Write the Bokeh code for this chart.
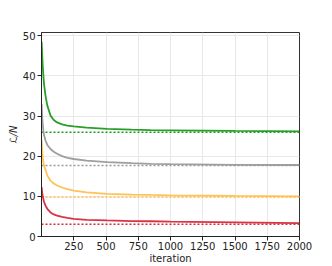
from bokeh.plotting import figure
from bokeh.models import FixedTicker, Range1d
from bokeh.embed import file_html
from bokeh.resources import INLINE

# data
iters = [1, 5, 10, 15, 20, 31, 45, 70, 95, 121, 160, 200, 250, 350, 509, 700, 845, 1000, 1500, 2000]
green = [48.5, 45.5, 42.3, 39.8, 37.8, 35.1, 32.6, 30.1, 29.0, 28.4, 27.9, 27.6, 27.4, 27.1, 26.8, 26.6, 26.5, 26.45, 26.3, 26.2]
gray = [33.0, 30.0, 27.8, 26.3, 25.2, 23.9, 22.8, 21.8, 21.1, 20.6, 20.0, 19.6, 19.3, 18.9, 18.5, 18.25, 18.1, 18.0, 17.85, 17.8]
orange = [24.0, 21.5, 19.6, 18.4, 17.6, 16.6, 15.2, 13.9, 13.2, 12.7, 12.2, 11.8, 11.4, 11.0, 10.6, 10.45, 10.35, 10.25, 10.1, 10.0]
red = [12.3, 11.0, 10.0, 9.2, 8.6, 7.7, 6.9, 6.0, 5.5, 5.2, 4.9, 4.65, 4.4, 4.15, 4.0, 3.85, 3.8, 3.7, 3.5, 3.35]
baselines = [25.95, 17.7, 9.8, 3.05]
colors = ["#1c9a1c", "#999999", "#ffbf4d", "#d62839"]
x_ticks = [250, 500, 750, 1000, 1250, 1500, 1750, 2000]
y_ticks = [0, 10, 20, 30, 40, 50]
x_span = [0, 2000]

p = figure(width=324, height=266, output_backend="svg", toolbar_location=None,
           x_range=Range1d(0, 2000), y_range=Range1d(0, 50.8),
           min_border_left=41, min_border_right=25, min_border_top=32, min_border_bottom=30)
p.background_fill_color = "white"
p.border_fill_color = "white"
p.outline_line_color = "#333333"
p.outline_line_width = 1

for ys, b, c in zip([green, gray, orange, red], baselines, colors):
    p.line(x_span, [b, b], line_color=c, line_width=1.5, line_dash="2 2")
    p.line(iters, ys, line_color=c, line_width=1.8, line_alpha=0.95)

p.xaxis.ticker = FixedTicker(ticks=x_ticks)
p.yaxis.ticker = FixedTicker(ticks=y_ticks)
for ax in (p.xaxis, p.yaxis):
    ax.major_label_text_font = "DejaVu Sans"
    ax.major_label_text_font_size = "10px"
    ax.major_label_text_color = "#222222"
    ax.axis_line_color = "#222222"
    ax.major_tick_line_color = "#222222"
    ax.major_tick_out = 4
    ax.major_tick_in = 0
    ax.minor_tick_out = 0
    ax.minor_tick_in = 0
    ax.axis_label_text_font = "DejaVu Sans"
    ax.axis_label_text_font_size = "10px"
    ax.axis_label_text_font_style = "normal"
    ax.axis_label_text_color = "#222222"
    ax.major_label_standoff = 2
p.xaxis.major_label_standoff = 1
p.xaxis.axis_label_standoff = 0
p.yaxis.axis_label_standoff = 1
p.xaxis.axis_label = "iteration"
p.yaxis.axis_label = "ℒ/N"
p.yaxis.axis_label_text_font_style = "italic"
p.xgrid.grid_line_color = "#e8e8e8"
p.ygrid.grid_line_color = "#e8e8e8"
p.xgrid.ticker = FixedTicker(ticks=[0] + x_ticks)

open("out.html", "w").write(file_html(p, INLINE))
